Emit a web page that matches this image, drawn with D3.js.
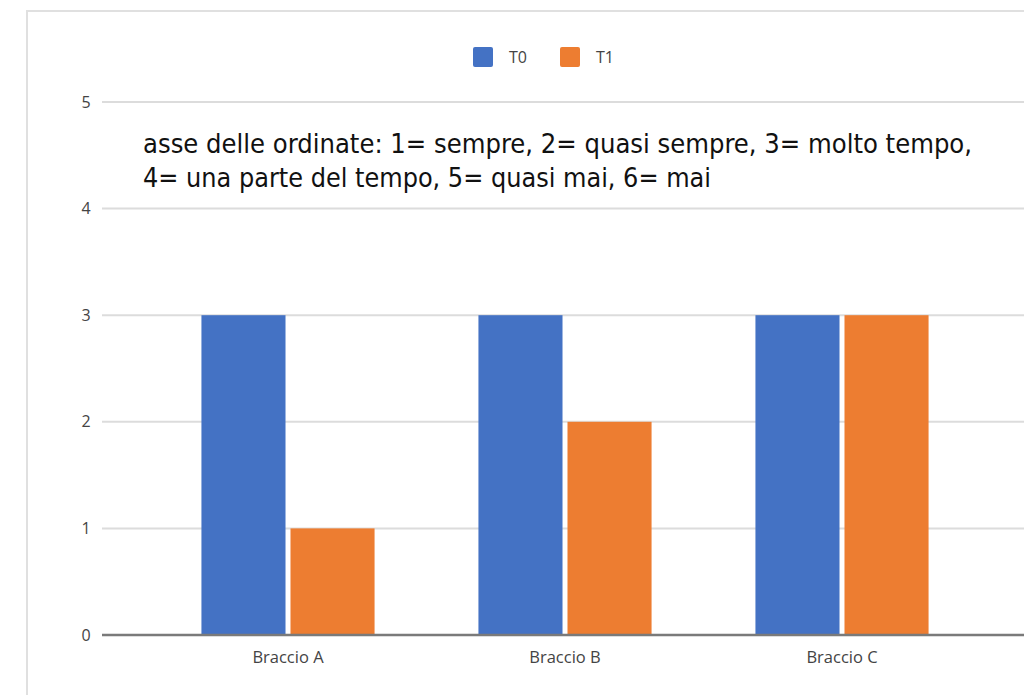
<!DOCTYPE html>
<html lang="it">
  <head>
    <meta charset="UTF-8">
    <title>Braccio T0 / T1</title>
    <script src="https://d3js.org/d3.v7.min.js"></script>
    <style>
      body { margin: 0; background: white; }
      svg { display: block; }
    </style>
  </head>
  <body>
    <script>
      const categories = ["Braccio A", "Braccio B", "Braccio C"];
      const series = ["T0", "T1"];
      const t0Values = [3, 3, 3];
      const t1Values = [1, 2, 3];
      const yTicks = [0, 1, 2, 3, 4, 5];
      const noteLines = [
        "asse delle ordinate: 1= sempre, 2= quasi sempre, 3= molto tempo,",
        "4= una parte del tempo, 5= quasi mai, 6= mai"
      ];

      const w = 1024, h = 695;
      const colors = { T0: "#4472C4", T1: "#ED7D31" };
      const labelFont = "'Open Sans', sans-serif";

      const data = categories.map((c, i) => ({ cat: c, T0: t0Values[i], T1: t1Values[i] }));

      const svg = d3.select("body").append("svg")
                    .attr("width", w).attr("height", h);

      // outer frame
      svg.append("rect")
         .attr("x", 27).attr("y", 11)
         .attr("width", w).attr("height", h)
         .attr("fill", "white")
         .attr("stroke", "#e0e0e0").attr("stroke-width", 2);

      const x0 = d3.scaleBand()
                   .domain(categories)
                   .range([149.5, 980.5])
                   .paddingInner(0.375)
                   .paddingOuter(0.1875);

      const x1 = d3.scaleBand()
                   .domain(series)
                   .range([0, x0.bandwidth()])
                   .paddingInner(0.056);

      const y = d3.scaleLinear().domain([0, 5]).range([635, 102]);

      // grid
      svg.append("g")
         .selectAll("line")
         .data(yTicks.filter(d => d > 0))
         .join("line")
         .attr("x1", 102).attr("x2", w)
         .attr("y1", d => y(d)).attr("y2", d => y(d))
         .attr("stroke", "#dcdcdc").attr("stroke-width", 2);

      // y tick labels
      svg.append("g")
         .selectAll("text")
         .data(yTicks)
         .join("text")
         .attr("x", 86).attr("y", d => y(d))
         .attr("dy", "0.35em")
         .attr("text-anchor", "middle")
         .style("font-family", labelFont)
         .style("font-size", "16px")
         .attr("fill", "#444")
         .text(d => d);

      // bars
      svg.append("g")
         .selectAll("g")
         .data(data)
         .join("g")
         .attr("transform", d => `translate(${x0(d.cat)},0)`)
         .selectAll("rect")
         .data(d => series.map(s => ({ key: s, value: d[s] })))
         .join("rect")
         .attr("x", d => x1(d.key))
         .attr("width", x1.bandwidth())
         .attr("y", d => y(d.value))
         .attr("height", d => y(0) - y(d.value))
         .attr("fill", d => colors[d.key]);

      // baseline
      svg.append("line")
         .attr("x1", 102).attr("x2", w)
         .attr("y1", y(0)).attr("y2", y(0))
         .attr("stroke", "#7a7a7a").attr("stroke-width", 2.5);

      // x labels
      svg.append("g")
         .selectAll("text")
         .data(categories)
         .join("text")
         .attr("x", d => x0(d) + x0.bandwidth() / 2)
         .attr("y", 657)
         .attr("dy", "0.35em")
         .attr("text-anchor", "middle")
         .style("font-family", labelFont)
         .style("font-size", "16.5px")
         .attr("fill", "#444")
         .text(d => d);

      // legend
      const legend = svg.append("g")
                        .selectAll("g")
                        .data(series)
                        .join("g")
                        .attr("transform", (d, i) => `translate(${473 + i * 87},47)`);
      legend.append("rect")
            .attr("width", 20).attr("height", 20).attr("rx", 2)
            .attr("fill", d => colors[d]);
      legend.append("text")
            .attr("x", 36).attr("y", 10).attr("dy", "0.35em")
            .style("font-family", labelFont)
            .style("font-size", "16px")
            .attr("fill", "#444")
            .text(d => d);

      // annotation
      const noteWidths = [829, 568];
      svg.append("g")
         .selectAll("text")
         .data(noteLines)
         .join("text")
         .attr("x", 143)
         .attr("y", (d, i) => 153 + i * 34)
         .attr("textLength", (d, i) => noteWidths[i])
         .attr("lengthAdjust", "spacingAndGlyphs")
         .style("font-family", "'Liberation Sans Narrow', 'DejaVu Sans Condensed', sans-serif")
         .style("font-size", "27px")
         .attr("fill", "#111")
         .text(d => d);
    </script>
  </body>
</html>
